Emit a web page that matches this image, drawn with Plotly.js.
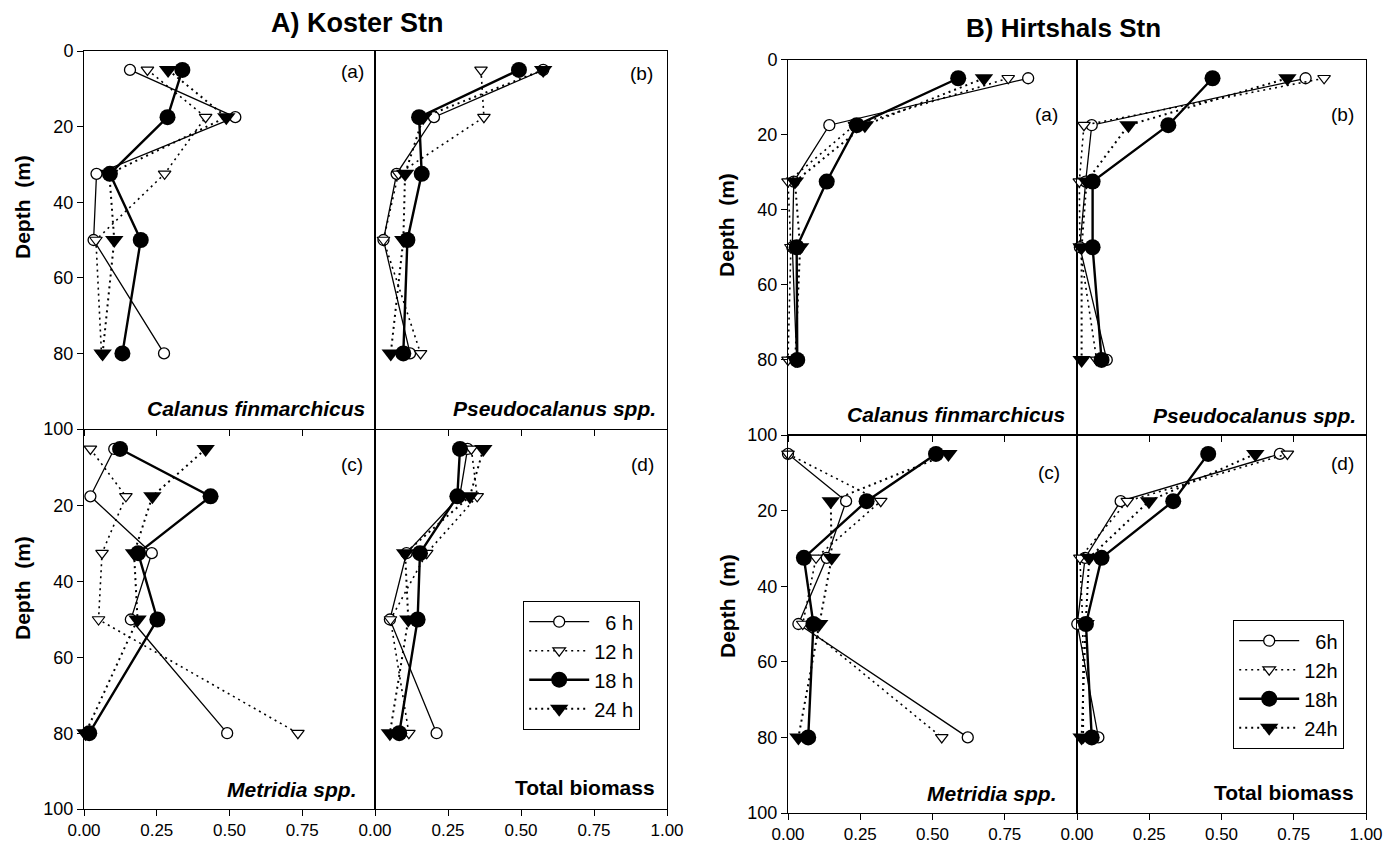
<!DOCTYPE html>
<html><head><meta charset="utf-8">
<script src="https://cdn.plot.ly/plotly-3.0.1.min.js"></script>
<style>html,body{margin:0;padding:0;background:#fff}#chart{width:1394px;height:843px}</style>
</head><body><div id="chart"></div>
<script>
// ---------- data ----------
const depths = [5, 17.5, 32.5, 50, 80];
const namesKoster = ['\u20076 h', '12 h', '18 h', '24 h'];
const namesHirtshals = ['\u20076h', '12h', '18h', '24h'];
const xTicksLeft = [0, 0.25, 0.5, 0.75];
const xTicksRight = [0, 0.25, 0.5, 0.75, 1.0];
const yTicksUpper = [0, 20, 40, 60, 80, 100];
const yTicksLower = [20, 40, 60, 80, 100];

// A) Koster Stn
const kosterCalanus6  = [0.158, 0.520, 0.043, 0.033, 0.275];
const kosterCalanus12 = [0.218, 0.418, 0.277, 0.041, 0.060];
const kosterCalanus18 = [0.338, 0.287, 0.089, 0.195, 0.132];
const kosterCalanus24 = [0.289, 0.489, 0.087, 0.104, 0.064];

const kosterPseudo6  = [0.576, 0.202, 0.074, 0.029, 0.120];
const kosterPseudo12 = [0.363, 0.373, 0.080, 0.029, 0.156];
const kosterPseudo18 = [0.493, 0.151, 0.160, 0.111, 0.097];
const kosterPseudo24 = [0.576, 0.165, 0.103, 0.097, 0.054];

const kosterMetridia6  = [0.104, 0.022, 0.233, 0.161, 0.492];
const kosterMetridia12 = [0.022, 0.144, 0.062, 0.050, 0.735];
const kosterMetridia18 = [0.124, 0.435, 0.186, 0.252, 0.018];
const kosterMetridia24 = [0.418, 0.235, 0.172, 0.184, 0.005];

const kosterTotal6  = [0.317, 0.290, 0.108, 0.051, 0.211];
const kosterTotal12 = [0.330, 0.350, 0.177, 0.053, 0.116];
const kosterTotal18 = [0.291, 0.282, 0.154, 0.146, 0.083];
const kosterTotal24 = [0.371, 0.325, 0.103, 0.114, 0.051];

// B) Hirtshals Stn
const hirtCalanus6  = [0.831, 0.143, 0.020, 0.015, 0.030];
const hirtCalanus12 = [0.762, 0.230, 0.000, 0.010, 0.000];
const hirtCalanus18 = [0.589, 0.238, 0.134, 0.030, 0.032];
const hirtCalanus24 = [0.678, 0.266, 0.024, 0.042, 0.025];

const hirtPseudo6  = [0.791, 0.051, 0.030, 0.010, 0.103];
const hirtPseudo12 = [0.855, 0.024, 0.008, 0.010, 0.068];
const hirtPseudo18 = [0.469, 0.316, 0.054, 0.054, 0.085];
const hirtPseudo24 = [0.728, 0.178, 0.033, 0.016, 0.016];

const hirtMetridia6  = [0.000, 0.201, 0.134, 0.036, 0.622];
const hirtMetridia12 = [0.000, 0.321, 0.097, 0.051, 0.532];
const hirtMetridia18 = [0.512, 0.272, 0.055, 0.088, 0.070];
const hirtMetridia24 = [0.555, 0.148, 0.151, 0.108, 0.036];

const hirtTotal6  = [0.702, 0.151, 0.028, 0.001, 0.074];
const hirtTotal12 = [0.728, 0.174, 0.010, 0.020, 0.022];
const hirtTotal18 = [0.454, 0.333, 0.085, 0.031, 0.051];
const hirtTotal24 = [0.617, 0.249, 0.042, 0.030, 0.016];

// ---------- styling ----------
const W = 1394, H = 843;
const FONT = '"Liberation Sans", Arial, Helvetica, sans-serif';
const fx = px => px / W;
const fy = py => 1 - py / H;

const styles = [
  {mode: 'lines+markers', line: {color: 'black', width: 1.3},
   marker: {symbol: 'circle', size: 11, color: 'white', line: {color: 'black', width: 1.3}}},
  {mode: 'lines+markers', line: {color: 'black', width: 1.6, dash: '2px,4px'},
   marker: {symbol: 'triangle-down', size: 11, color: 'white', line: {color: 'black', width: 1.2}}},
  {mode: 'lines+markers', line: {color: 'black', width: 2.4},
   marker: {symbol: 'circle', size: 16, color: 'black', line: {color: 'black', width: 0}}},
  {mode: 'lines+markers', line: {color: 'black', width: 2.0, dash: '2px,4px'},
   marker: {symbol: 'triangle-down', size: 16, color: 'black', line: {color: 'black', width: 0}}}
];

// panel geometry (pixels)
const panels = [
  // Koster
  {id: 1, x: [84, 375], y: [51, 429], series: [kosterCalanus6, kosterCalanus12, kosterCalanus18, kosterCalanus24],
   left: true, upper: true, legend: 'legend', names: namesKoster},
  {id: 2, x: [375, 667], y: [51, 429], series: [kosterPseudo6, kosterPseudo12, kosterPseudo18, kosterPseudo24],
   left: false, upper: true},
  {id: 3, x: [84, 375], y: [430, 809], series: [kosterMetridia6, kosterMetridia12, kosterMetridia18, kosterMetridia24],
   left: true, upper: false},
  {id: 4, x: [375, 667], y: [430, 809], series: [kosterTotal6, kosterTotal12, kosterTotal18, kosterTotal24],
   left: false, upper: false},
  // Hirtshals
  {id: 5, x: [788, 1077], y: [59.5, 435], series: [hirtCalanus6, hirtCalanus12, hirtCalanus18, hirtCalanus24],
   left: true, upper: true, legend: 'legend2', names: namesHirtshals},
  {id: 6, x: [1077, 1366], y: [59.5, 435], series: [hirtPseudo6, hirtPseudo12, hirtPseudo18, hirtPseudo24],
   left: false, upper: true},
  {id: 7, x: [788, 1077], y: [435, 813], series: [hirtMetridia6, hirtMetridia12, hirtMetridia18, hirtMetridia24],
   left: true, upper: false},
  {id: 8, x: [1077, 1366], y: [435, 813], series: [hirtTotal6, hirtTotal12, hirtTotal18, hirtTotal24],
   left: false, upper: false}
];

const traces = [];
const legendBase = {xanchor: 'left', yanchor: 'top', bgcolor: 'white',
  bordercolor: 'black', borderwidth: 1.2, font: {size: 20, family: FONT, color: 'black'},
  itemwidth: 60, traceorder: 'normal'};
const layout = {
  width: W, height: H, margin: {l: 0, r: 0, t: 0, b: 0},
  paper_bgcolor: 'white', plot_bgcolor: 'rgba(0,0,0,0)',
  font: {family: FONT, color: 'black', size: 17},
  showlegend: true,
  legend: Object.assign({x: fx(523), y: fy(601)}, legendBase),
  legend2: Object.assign({x: fx(1233), y: fy(620)}, legendBase),
  annotations: []
};

panels.forEach(p => {
  const xs = p.id === 1 ? '' : String(p.id);
  const xName = 'x' + xs, yName = 'y' + xs;
  p.series.forEach((vals, i) => {
    const s = styles[i];
    const t = {
      type: 'scatter', x: vals, y: depths, xaxis: xName, yaxis: yName,
      mode: s.mode, line: s.line, marker: s.marker, cliponaxis: false,
      showlegend: !!p.legend, hoverinfo: 'x+y'
    };
    if (p.legend) {
      t.legend = p.legend;
      t.name = p.names[i];
    }
    traces.push(t);
  });
  const tv = p.left ? xTicksLeft : xTicksRight;
  layout['xaxis' + xs] = {
    domain: [fx(p.x[0]), fx(p.x[1])], anchor: yName, range: [0, 1],
    showline: true, mirror: true, linecolor: 'black', linewidth: 1,
    ticks: 'outside', ticklen: 6, tickwidth: 1, tickcolor: 'black',
    tickmode: 'array', tickvals: tv, tickformat: '.2f',
    showticklabels: !p.upper, showgrid: false, zeroline: false,
    tickfont: {size: 17, family: FONT, color: 'black'}, fixedrange: true
  };
  layout['yaxis' + xs] = {
    domain: [fy(p.y[1]), fy(p.y[0])], anchor: xName, range: [100, 0],
    showline: true, mirror: true, linecolor: 'black', linewidth: 1,
    ticks: p.left ? 'outside' : '', ticklen: 6, tickwidth: 1, tickcolor: 'black',
    tickmode: 'array', tickvals: p.upper ? yTicksUpper : yTicksLower,
    showticklabels: p.left, showgrid: false, zeroline: false,
    tickfont: {size: 18, family: FONT, color: 'black'}, fixedrange: true
  };
});

function ann(text, x, y, opts) {
  layout.annotations.push(Object.assign({
    text: text, xref: 'paper', yref: 'paper', x: fx(x), y: fy(y),
    xanchor: 'right', yanchor: 'middle', showarrow: false,
    font: {family: FONT, size: 19, color: 'black'}
  }, opts || {}));
}

// titles
ann('<b>A) Koster Stn</b>', 357, 23, {xanchor: 'center', font: {family: FONT, size: 27, color: 'black'}});
ann('<b>B) Hirtshals Stn</b>', 1063, 28, {xanchor: 'center', font: {family: FONT, size: 26, color: 'black'}});

// depth axis titles
const depthTitle = '<b>Depth\u00a0\u00a0(m)</b>';
[[22, 207], [22, 588], [727, 225], [727, 606]].forEach(([x, y]) =>
  ann(depthTitle, x, y, {xanchor: 'center', textangle: -90, font: {family: FONT, size: 21, color: 'black'}}));

// panel letters
[['(a)', 366, 72], ['(b)', 655, 74], ['(c)', 365, 464], ['(d)', 656, 464],
 ['(a)', 1060, 114], ['(b)', 1356, 114], ['(c)', 1062, 472], ['(d)', 1356, 463]]
  .forEach(([t, x, y]) => ann(t, x, y));

// species labels
const spFont = {family: FONT, size: 21, color: 'black'};
[['<b><i>Calanus finmarchicus</i></b>', 367, 408], ['<b><i>Pseudocalanus spp.</i></b>', 658, 408],
 ['<b><i>Metridia spp.</i></b>', 359, 789], ['<b>Total biomass</b>', 657, 787],
 ['<b><i>Calanus finmarchicus</i></b>', 1067, 414], ['<b><i>Pseudocalanus spp.</i></b>', 1358, 415],
 ['<b><i>Metridia spp.</i></b>', 1059, 793], ['<b>Total biomass</b>', 1356, 792]]
  .forEach(([t, x, y]) => ann(t, x, y, {font: spFont}));

Plotly.newPlot('chart', traces, layout, {displayModeBar: false, staticPlot: true});
</script>
</body></html>
